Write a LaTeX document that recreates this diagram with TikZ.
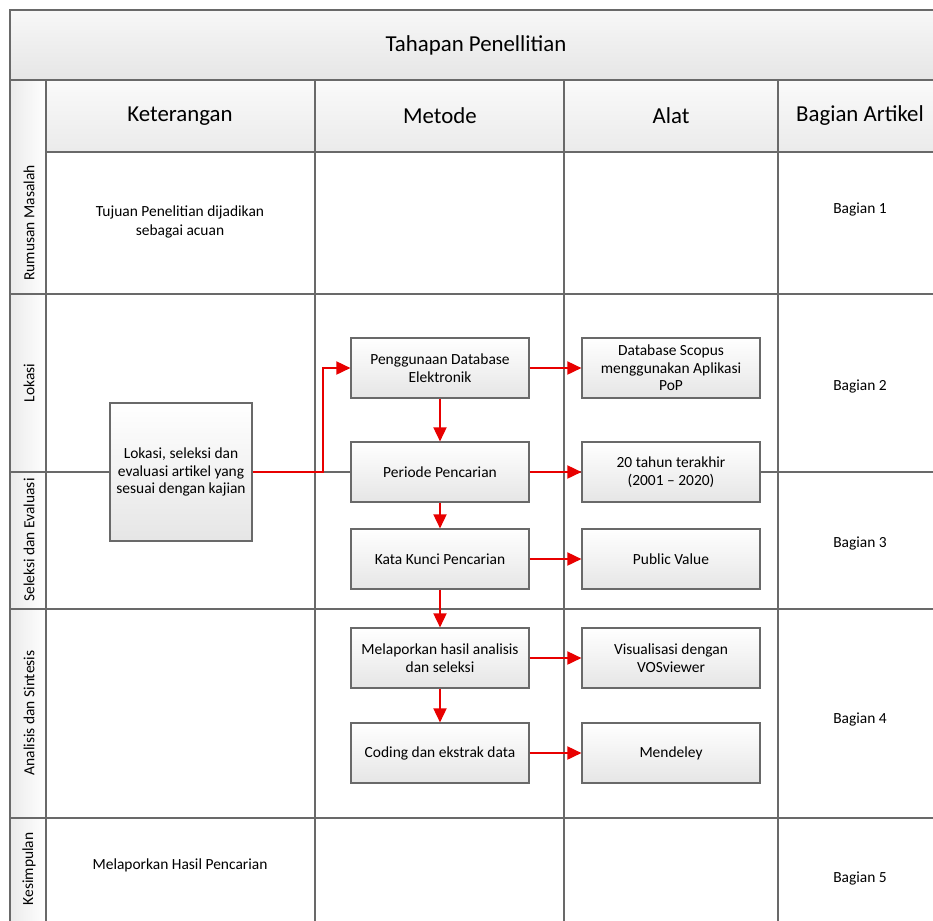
\documentclass[tikz,border=0pt]{standalone}
\usepackage{fontspec}
\setmainfont{Carlito}
\usetikzlibrary{arrows.meta, positioning, calc, shadows}
\definecolor{linegray}{RGB}{105,105,105}
\definecolor{arrred}{RGB}{232,0,0}

\begin{document}
\begin{tikzpicture}[x=0.02cm, y=-0.02cm,
  tbox/.style={draw=linegray, line width=0.7pt, top color=white, bottom color=gray!20, drop shadow={shadow xshift=0.8pt, shadow yshift=-0.8pt, opacity=0.3}, minimum width=3.56cm, minimum height=1.2cm, inner sep=2pt, align=center, font=\fontsize{8.8}{10}\selectfont},
  arr/.style={-{Triangle[length=8pt, width=7.5pt]}, arrred, line width=0.8pt},
  grid/.style={linegray, line width=1pt},
  small/.style={align=center, font=\fontsize{8.8}{10.5}\selectfont},
  head/.style={font=\fontsize{13}{15}\selectfont},
  lane/.style={rotate=90, font=\fontsize{8.8}{10}\selectfont}
]
  \useasboundingbox (0,0) rectangle (933,920);
  \fill[white] (0,0) rectangle (933,920);
  \clip (0,0) rectangle (933,920);

  % table background
  \fill[top color=gray!6, bottom color=gray!20] (10,10) rectangle (942,80);
  \fill[top color=gray!4, bottom color=gray!16] (46,80) rectangle (942,152);
  \foreach \ya/\yb in {80/294, 294/472, 472/609, 609/818, 818/930}
    \fill[left color=gray!16, right color=white] (10,\ya) rectangle (46,\yb);

  % grid lines
  \draw[grid] (10,10) rectangle (942,930);
  \draw[grid] (10,80) -- (942,80);
  \draw[grid] (46,152) -- (942,152);
  \foreach \y in {294, 472, 609, 818}
    \draw[grid] (10,\y) -- (942,\y);
  \foreach \x in {46, 315, 564, 778}
    \draw[grid] (\x,80) -- (\x,930);

  % headers
  \node[head] (title) at (476,45) {Tahapan Penellitian};
  \node[head] (hket) at (180,116) {Keterangan};
  \node[head] (hmet) at (440,116) {Metode};
  \node[head] (halat) at (671,116) {Alat};
  \node[head] (hbag) at (860,116) {Bagian Artikel};

  % lanes
  \node[lane] (lane1) at (29,223) {Rumusan Masalah};
  \node[lane] (lane2) at (29,383) {Lokasi};
  \node[lane] (lane3) at (29,540) {Seleksi dan Evaluasi};
  \node[lane] (lane4) at (29,713) {Analisis dan Sintesis};
  \node[lane] (lane5) at (29,869) {Kesimpulan};

  % cell texts
  \node[small] (ket1) at (180,222) {Tujuan Penelitian dijadikan\\sebagai acuan};
  \node[small] (ket5) at (180,865) {Melaporkan Hasil Pencarian};
  \node[small] (bag1) at (860,210) {Bagian 1};
  \node[small] (bag2) at (860,387) {Bagian 2};
  \node[small] (bag3) at (860,543) {Bagian 3};
  \node[small] (bag4) at (860,719) {Bagian 4};
  \node[small] (bag5) at (860,878) {Bagian 5};

  % boxes
  \node[tbox, minimum width=2.84cm, minimum height=2.76cm] (lok) at (181,472) {Lokasi, seleksi dan\\evaluasi artikel yang\\sesuai dengan kajian};
  \node[tbox] (peng) at (440,368) {Penggunaan Database\\Elektronik};
  \node[tbox] (per) at (440,472) {Periode Pencarian};
  \node[tbox] (kata) at (440,559) {Kata Kunci Pencarian};
  \node[tbox] (lap) at (440,658) {Melaporkan hasil analisis\\dan seleksi};
  \node[tbox] (cod) at (440,753) {Coding dan ekstrak data};
  \node[tbox] (scop) at (671,368) {Database Scopus\\menggunakan Aplikasi\\PoP};
  \node[tbox] (thn) at (671,472) {20 tahun terakhir\\(2001 -- 2020)};
  \node[tbox] (pv) at (671,559) {Public Value};
  \node[tbox] (vis) at (671,658) {Visualisasi dengan\\VOSviewer};
  \node[tbox] (mend) at (671,753) {Mendeley};

  % arrows
  \coordinate (bend) at (323,472);
  \draw[arr] (lok.east) -- (bend) |- (peng.west);
  \draw[arr] (peng) -- (per);
  \draw[arr] (per) -- (kata);
  \draw[arr] (kata) -- (lap);
  \draw[arr] (lap) -- (cod);
  \draw[arr] (peng) -- (scop);
  \draw[arr] (per) -- (thn);
  \draw[arr] (kata) -- (pv);
  \draw[arr] (lap) -- (vis);
  \draw[arr] (cod) -- (mend);
\end{tikzpicture}
\end{document}
